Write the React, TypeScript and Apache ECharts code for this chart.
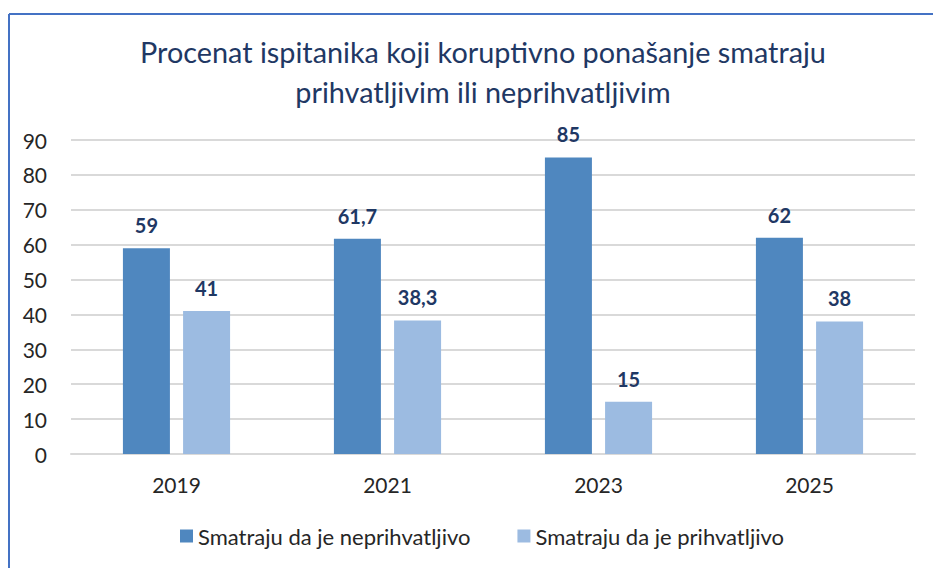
import React, { useEffect, useRef } from "react";
import * as echarts from "echarts";

const categories = ["2019", "2021", "2023", "2025"];
const seriesNames = ["Smatraju da je neprihvatljivo", "Smatraju da je prihvatljivo"];
const unacceptable = [59, 61.7, 85, 62];
const acceptable = [41, 38.3, 15, 38];
const titleLines = ["Procenat ispitanika koji koruptivno ponašanje smatraju", "prihvatljivim ili neprihvatljivim"];

const FONT = "Lato, 'Open Sans', sans-serif";

export default function App() {
  const ref = useRef<HTMLDivElement>(null);
  useEffect(() => {
    if (!ref.current) return;
    const chart = echarts.init(ref.current, null, { renderer: "svg" });
    const labelCfg = {
      show: true,
      position: "top",
      distance: 13,
      color: "#1F3864",
      fontWeight: "bold",
      fontSize: 20,
      fontFamily: FONT,
      formatter: (p: any) => String(p.value).replace(".", ","),
    };
    chart.setOption({
      animation: false,
      backgroundColor: "#ffffff",
      textStyle: { fontFamily: FONT },
      title: {
        text: titleLines.join("\n"),
        left: 478,
        textAlign: "center",
        top: 27,
        textStyle: { color: "#1F3864", fontSize: 28.8, fontWeight: "normal", lineHeight: 40, fontFamily: FONT },
      },
      graphic: [
        { type: "line", shape: { x1: 9, y1: 14, x2: 933, y2: 14 }, style: { stroke: "#4472C4", lineWidth: 2 } },
        { type: "line", shape: { x1: 9, y1: 14, x2: 9, y2: 568 }, style: { stroke: "#4472C4", lineWidth: 2 } },
      ],
      legend: {
        data: seriesNames,
        top: 523,
        padding: 0,
        left: 180,
        itemWidth: 13,
        itemHeight: 13,
        itemGap: 47,
        icon: "rect",
        textStyle: { color: "#262626", fontSize: 22, fontFamily: FONT, lineHeight: 26 },
      },
      grid: { left: 71, right: 18, top: 140, bottom: 114, containLabel: false },
      xAxis: {
        type: "category",
        data: categories,
        axisTick: { show: false },
        axisLine: { lineStyle: { color: "#D9D9D9", width: 2 } },
        axisLabel: { color: "#262626", fontSize: 21, margin: 20, fontFamily: FONT },
      },
      yAxis: {
        type: "value",
        min: 0,
        max: 90,
        interval: 10,
        axisLine: { show: false },
        axisTick: { show: false },
        axisLabel: { color: "#262626", fontSize: 21, margin: 24, fontFamily: FONT },
        splitLine: { lineStyle: { color: "#D9D9D9", width: 2 } },
      },
      series: [
        {
          name: seriesNames[0],
          type: "bar",
          data: unacceptable,
          barWidth: 47,
          barGap: "28%",
          itemStyle: { color: "#4F87BF" },
          label: labelCfg,
        },
        {
          name: seriesNames[1],
          type: "bar",
          data: acceptable,
          barWidth: 47,
          itemStyle: { color: "#9CBBE1" },
          label: labelCfg,
        },
      ],
    });
    return () => chart.dispose();
  }, []);
  return <div ref={ref} style={{ position: "absolute", left: 0, top: 0, width: 933, height: 568 }} />;
}
